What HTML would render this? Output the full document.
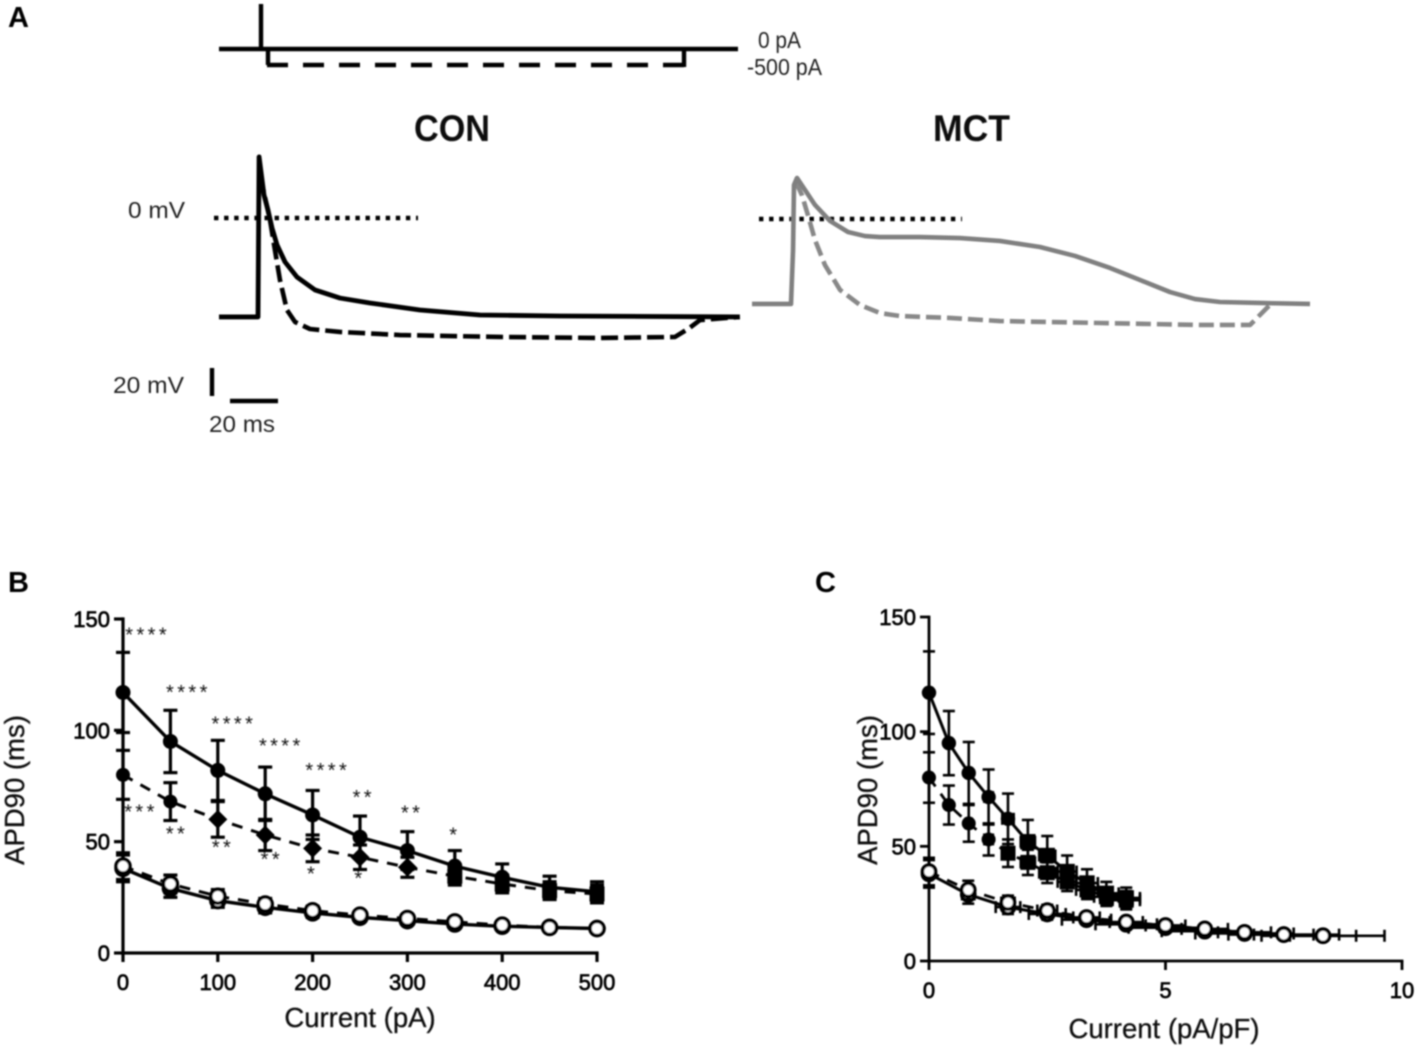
<!DOCTYPE html>
<html lang="en">
<head>
<meta charset="utf-8">
<title>Action potential traces and APD90 curves</title>
<style>
html,body{margin:0;padding:0;background:#fff;}
svg{display:block;}
text{font-family:"Liberation Sans",sans-serif;}
.tick{font-size:22px;fill:#000;stroke:#000;stroke-width:.7px;}
.title{font-size:27.5px;fill:#111;stroke:#111;stroke-width:.3px;}
.ann{font-size:23px;fill:#222;}
.panel{font-size:29px;font-weight:bold;fill:#000;}
.head{font-size:37px;font-weight:bold;fill:#111;}
.star{font-size:20px;fill:#111;letter-spacing:3.4px;}
</style>
</head>
<body>
<svg id="fig" width="1417" height="1046" viewBox="0 0 1417 1046" xmlns="http://www.w3.org/2000/svg">
<defs><filter id="soft" x="-2%" y="-2%" width="104%" height="104%"><feGaussianBlur stdDeviation="0.7"/></filter></defs>
<rect width="1417" height="1046" fill="#fff"/>
<g id="root" filter="url(#soft)">
  <text class="panel" x="8" y="27">A</text>
  <text class="panel" x="8" y="592">B</text>
  <text class="panel" x="815" y="592">C</text>

  <g id="stim" fill="none" stroke="#000" stroke-width="4.4">
    <line x1="219" y1="49" x2="738" y2="49"/>
    <line x1="261" y1="4" x2="261" y2="49"/>
    <line x1="268" y1="49" x2="268" y2="65"/>
    <line x1="267" y1="65" x2="684" y2="65" stroke-dasharray="21 15"/>
    <line x1="684" y1="67" x2="684" y2="49"/>
  </g>
  <text class="ann" x="758" y="48" textLength="43" lengthAdjust="spacingAndGlyphs">0 pA</text>
  <text class="ann" x="747" y="75" textLength="75" lengthAdjust="spacingAndGlyphs">-500 pA</text>
  <text class="head" x="414" y="141" textLength="76" lengthAdjust="spacingAndGlyphs">CON</text>
  <text class="head" x="933" y="141" textLength="77" lengthAdjust="spacingAndGlyphs">MCT</text>
  <text class="ann" x="128" y="218" textLength="57" lengthAdjust="spacingAndGlyphs">0 mV</text>
  <text class="ann" x="113" y="393" textLength="71" lengthAdjust="spacingAndGlyphs">20 mV</text>
  <text class="ann" x="209" y="432" textLength="66" lengthAdjust="spacingAndGlyphs">20 ms</text>
  <line x1="212" y1="368" x2="212" y2="396" stroke="#000" stroke-width="4.4"/>
  <line x1="230" y1="401" x2="278" y2="401" stroke="#000" stroke-width="4.4"/>
  <line x1="214" y1="218" x2="418" y2="218" stroke="#000" stroke-width="4.4" stroke-dasharray="4.4 5.7"/>
  <line x1="759" y1="219" x2="962" y2="219" stroke="#000" stroke-width="4.4" stroke-dasharray="4.4 5.7"/>

  <g id="traces"></g>
  <g id="chartB"></g>
  <g id="chartC"></g>

  <text class="title" x="360" y="1027" text-anchor="middle">Current (pA)</text>
  <text class="title" transform="translate(24,790) rotate(-90)" text-anchor="middle">APD90 (ms)</text>
  <text class="title" x="1164" y="1038" text-anchor="middle">Current (pA/pF)</text>
  <text class="title" transform="translate(877,790) rotate(-90)" text-anchor="middle">APD90 (ms)</text>

  <g id="stars"></g>
</g>
</svg>
<script>
// Panel A traces: time (ms) and membrane potential (mV)
const conSolidT = [0,16.25,16.7,18.75,20.4,22.1,24.2,27.5,32.5,40,50.4,62.9,83.75,108.75,142,217];
const conSolidV = [-71.4,-71.4,42.9,15.7,5,-7.9,-20,-32.1,-42.9,-52.1,-57.9,-61.4,-66.4,-70,-70.7,-71.4];
const conDashT = [17.1,21.25,23.3,25.4,28.3,31.7,37.9,50.4,75.4,117,158.75,190,196,200.4,217];
const conDashV = [30,-2.1,-23.6,-45,-66.4,-75,-80,-82.1,-84.3,-85.7,-86.4,-85.7,-79.3,-73.6,-71.4];
const mctSolidT = [0,16.25,17.1,17.5,18.75,22.1,26.25,32.5,40,47.1,53.3,70,86.7,103.3,120,134.6,149.2,161.7,174.2,184.6,195,211.7,232.5];
const mctSolidV = [-61.4,-61.4,-22.9,23.6,28.6,20,9.3,-2.1,-10,-12.9,-13.6,-13.6,-14.3,-16.4,-20.7,-27.1,-35.7,-44.3,-52.9,-57.9,-60,-60.7,-61.4];
const mctDashT = [18.3,20.8,23.3,26.25,30.4,36.7,45,53.3,61.7,82.5,103.3,145,186.7,207.5,215.8];
const mctDashV = [25.7,16.4,2.1,-15.7,-33.6,-51.4,-62.1,-67.9,-70,-71.4,-73.6,-75,-76.4,-76.4,-62.1];

// Chart B: APD90 vs injected current
const bCurrent = [0,50,100,150,200,250,300,350,400,450,500];
const bTicksX = [0,100,200,300,400,500];
const bTicksY = [0,50,100,150];
const filledSolid = [117,95,82,71.5,62,52,46,39,34,29.5,27.5];
const filledSolidErr = [18,14,13.5,12,11,9.5,8.5,7,6,5,4.5];
const filledDash = [80,68,60,53,47,43,38.5,34.5,31,28,26.5];
const filledDashErr = [11,8.5,8,7,6,5.5,4.5,4,4,4,4];
const openSolid = [38,29,23.5,20.5,18,16,14.5,13,12,11.5,11];
const openSolidErr = [6,4,3,2.5,2,1.5,1.5,1.5,1,1,1];
const openDash = [39,31,25.5,22,19,17,15.5,14,12.5,11.5,11];
const openDashErr = [6,4,3,2.5,2,1.5,1.5,1.5,1,1,1];
const bDashShapes = ['c','c','d','d','d','d','d','s','s','s','s'];

// Chart C: APD90 vs current density
const cFilledX = [0,.42,.84,1.26,1.67,2.09,2.5,2.92,3.34,3.75,4.17];
const cFilledXErr = [0,.03,.06,.09,.12,.15,.17,.2,.23,.26,.29];
const cOpenX = [0,.83,1.67,2.5,3.33,4.17,5,5.83,6.67,7.5,8.33];
const cOpenSolidXErr = [0,.13,.26,.39,.52,.65,.78,.91,1.04,1.17,1.3];
const cOpenDashXErr = [0,.07,.14,.21,.28,.35,.42,.49,.56,.63,.7];
const cTicksX = [0,5,10];
const cTicksY = [0,50,100,150];
const cSolidShapes = ['c','c','c','c','c','s','s','s','s','s','s'];
const cDashShapes = ['c','c','c','c','s','s','s','s','s','s','s'];

// Significance annotations
const starLabels = ['****','****','****','****','****','**','**','*','***','**','**','**','*','*'];
const starCurrent = [26,69,117,167,216,254,305,350,19,57,105.5,157,200,250];
const starValue = [140,114,100,90,79,67,60,50,60.5,50.5,44.5,39,32.5,30.5];

const NS = 'http://www.w3.org/2000/svg';
function make(parent, tag, attrs){
  const el = document.createElementNS(NS, tag);
  for (const k in attrs) el.setAttribute(k, attrs[k]);
  parent.appendChild(el);
  return el;
}

// Panel A axis functions
const conX = t => 219 + t * 2.4;
const conY = v => 217 - v * 1.4;
const mctX = t => 752 + t * 2.4;
const mctY = v => 218 - v * 1.4;

function drawTrace(ts, vs, fx, fy, color, dash, width, name){
  const pts = ts.map((t,i) => fx(t) + ',' + fy(vs[i])).join(' ');
  const el = make(document.getElementById('traces'), 'polyline', {points:pts, fill:'none', stroke:color, 'stroke-width':width, 'stroke-linejoin':'round', 'stroke-dasharray':dash});
  
  
}
drawTrace(conDashT, conDashV, conX, conY, '#000', '17 6', 4.6, 'con-dashed-trace');
drawTrace(conSolidT, conSolidV, conX, conY, '#000', 'none', 4.8, 'con-solid-trace');
drawTrace(mctDashT, mctDashV, mctX, mctY, '#888', '15 6', 4.6, 'mct-dashed-trace');
drawTrace(mctSolidT, mctSolidV, mctX, mctY, '#808080', 'none', 4.6, 'mct-solid-trace');

function drawAxes(root, fx, fy, ticksX, ticksY, lw, prefix){
  const xa = make(root, 'line', {x1:fx(ticksX[0]), x2:fx(ticksX[ticksX.length-1]), y1:fy(0), y2:fy(0), stroke:'#000', 'stroke-width':lw, 'stroke-linecap':'square'});
  
  
  const ya = make(root, 'line', {x1:fx(0), x2:fx(0), y1:fy(0), y2:fy(ticksY[ticksY.length-1]), stroke:'#000', 'stroke-width':lw, 'stroke-linecap':'square'});
  
  
  ticksX.forEach(v => {
    const t = make(root, 'line', {x1:fx(v), x2:fx(v), y1:fy(0), y2:fy(0)+9, stroke:'#000', 'stroke-width':lw});
    
    
    const l = make(root, 'text', {x:fx(v), y:fy(0)+37, 'text-anchor':'middle', class:'tick'});
    l.textContent = v;
    
    
  });
  ticksY.forEach(v => {
    const t = make(root, 'line', {x1:fx(0)-9, x2:fx(0), y1:fy(v), y2:fy(v), stroke:'#000', 'stroke-width':lw});
    
    
    const l = make(root, 'text', {x:fx(0)-13, y:fy(v)+8, 'text-anchor':'end', class:'tick'});
    l.textContent = v;
    
    
  });
}

function drawSeries(root, o){
  const g = make(root, 'g', {});
  
  
  const capH = o.cap, sw = o.lw;
  const stroke = {stroke:'#000', 'stroke-width':sw};
  o.xs.forEach((x,i) => {
    const px = o.fx(x), hi = o.fy(o.ys[i]+o.yerr[i]), lo = o.fy(o.ys[i]-o.yerr[i]);
    make(g, 'line', Object.assign({x1:px, x2:px, y1:hi, y2:lo}, stroke));
    make(g, 'line', Object.assign({x1:px-capH, x2:px+capH, y1:hi, y2:hi}, stroke));
    make(g, 'line', Object.assign({x1:px-capH, x2:px+capH, y1:lo, y2:lo}, stroke));
    if (o.xerr && o.xerr[i] > 0){
      const py = o.fy(o.ys[i]), l = o.fx(x-o.xerr[i]), r = o.fx(x+o.xerr[i]);
      make(g, 'line', Object.assign({x1:l, x2:r, y1:py, y2:py}, stroke));
      make(g, 'line', Object.assign({x1:l, x2:l, y1:py-capH, y2:py+capH}, stroke));
      make(g, 'line', Object.assign({x1:r, x2:r, y1:py-capH, y2:py+capH}, stroke));
    }
  });
  make(g, 'polyline', {points:o.xs.map((x,i)=>o.fx(x)+','+o.fy(o.ys[i])).join(' '), fill:'none', stroke:'#000', 'stroke-width':o.lineW, 'stroke-dasharray':o.dash||'none'});
  o.xs.forEach((x,i) => {
    const px = o.fx(x), py = o.fy(o.ys[i]), s = o.shapes ? o.shapes[i] : 'c', r = o.r;
    if (o.open) make(g, 'circle', {cx:px, cy:py, r:r, fill:'#fff', stroke:'#000', 'stroke-width':3.5});
    else if (s === 'c') make(g, 'circle', {cx:px, cy:py, r:r, fill:'#000'});
    else if (s === 'd') make(g, 'path', {d:'M'+px+' '+(py-r-2.5)+'L'+(px+r+2.5)+' '+py+'L'+px+' '+(py+r+2.5)+'L'+(px-r-2.5)+' '+py+'Z', fill:'#000'});
    else make(g, 'rect', {x:px-r-0.5, y:py-r-0.5, width:2*r+1, height:2*r+1, fill:'#000'});
  });
}

// Chart B axis functions
const bX = v => 123 + v * (597-123)/500;
const bY = v => 953 - v * (953-619)/150;
const bRoot = document.getElementById('chartB');
drawAxes(bRoot, bX, bY, bTicksX, bTicksY, 3.2, 'chart-b');
drawSeries(bRoot, {name:'chart-b-filled-solid-series', xs:bCurrent, ys:filledSolid, yerr:filledSolidErr, fx:bX, fy:bY, cap:7, lw:3.2, lineW:3.4, r:7.5});
drawSeries(bRoot, {name:'chart-b-filled-dashed-series', xs:bCurrent, ys:filledDash, yerr:filledDashErr, fx:bX, fy:bY, cap:7, lw:3.2, lineW:3, r:7, dash:'11 9', shapes:bDashShapes});
drawSeries(bRoot, {name:'chart-b-open-solid-series', xs:bCurrent, ys:openSolid, yerr:openSolidErr, fx:bX, fy:bY, cap:7, lw:3.2, lineW:3.4, r:7, open:true});
drawSeries(bRoot, {name:'chart-b-open-dashed-series', xs:bCurrent, ys:openDash, yerr:openDashErr, fx:bX, fy:bY, cap:7, lw:3.2, lineW:3, r:7, open:true, dash:'11 9'});

// Chart C axis functions
const cX = v => 929 + v * (1402-929)/10;
const cY = v => 961 - v * (961-617)/150;
const cRoot = document.getElementById('chartC');
drawAxes(cRoot, cX, cY, cTicksX, cTicksY, 2.8, 'chart-c');
drawSeries(cRoot, {name:'chart-c-filled-solid-series', xs:cFilledX, ys:filledSolid, yerr:filledSolidErr, xerr:cFilledXErr, fx:cX, fy:cY, cap:6, lw:2.6, lineW:3, r:7.2, shapes:cSolidShapes});
drawSeries(cRoot, {name:'chart-c-filled-dashed-series', xs:cFilledX, ys:filledDash, yerr:filledDashErr, xerr:cFilledXErr, fx:cX, fy:cY, cap:6, lw:2.6, lineW:2.8, r:7, dash:'11 9', shapes:cDashShapes});
drawSeries(cRoot, {name:'chart-c-open-solid-series', xs:cOpenX, ys:openSolid, yerr:openSolidErr, xerr:cOpenSolidXErr, fx:cX, fy:cY, cap:6, lw:2.6, lineW:3, r:6.6, open:true});
drawSeries(cRoot, {name:'chart-c-open-dashed-series', xs:cOpenX, ys:openDash, yerr:openDashErr, xerr:cOpenDashXErr, fx:cX, fy:cY, cap:6, lw:2.6, lineW:2.8, r:6.6, open:true, dash:'11 9'});

const starRoot = document.getElementById('stars');
starLabels.forEach((s,i) => {
  const t = make(starRoot, 'text', {x:bX(starCurrent[i]), y:bY(starValue[i]), 'text-anchor':'middle', class:'star'});
  t.textContent = s;
  
  
});
</script>
</body>
</html>
